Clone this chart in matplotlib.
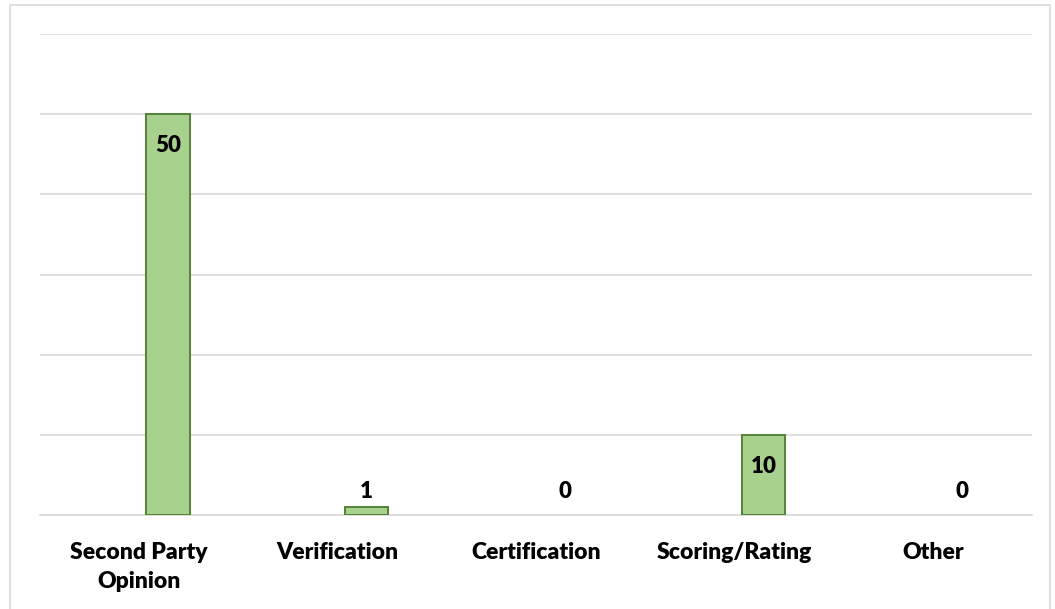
import matplotlib.pyplot as plt
from matplotlib.patches import Rectangle
import numpy as np

# Review types and counts
categories = ["Second Party\nOpinion", "Verification", "Certification", "Scoring/Rating", "Other"]
counts = [50, 1, 0, 10, 0]

plt.rcParams["font.family"] = ["Lato", "DejaVu Sans"]

fig = plt.figure(figsize=(10.55, 6.09), dpi=100)
ax = fig.add_axes([40 / 1055, 1 - 515 / 609, 992 / 1055, 481 / 609])

# chart border (bottom edge runs off the page)
fig.patches.append(Rectangle((10 / 1055, -0.05), 1040 / 1055, 1.05 - 5 / 609,
                             transform=fig.transFigure, fill=False,
                             edgecolor="#D9D9D9", linewidth=1.2))

x = np.arange(len(categories))
offset = 0.146
bars = ax.bar(x + offset, counts, width=0.22, color="#A9D18E",
              edgecolor="#548235", linewidth=1.4, zorder=3)
for b, v in zip(bars, counts):
    if v == 0:
        b.set_edgecolor("none")

ax.set_xlim(-0.5, len(categories) - 0.5)
ax.set_ylim(0, 60)
ax.set_yticks(np.arange(0, 61, 10))
ax.yaxis.grid(True, color="#D9D9D9", linewidth=1.2, zorder=0)
ax.tick_params(axis="y", left=False, labelleft=False)
ax.tick_params(axis="x", bottom=False, pad=16)
ax.set_xticks(x)
ax.set_xticklabels(categories, fontsize=16.5, fontweight="heavy", linespacing=1.45)
for s in ["top", "right", "left"]:
    ax.spines[s].set_visible(False)
ax.spines["bottom"].set_color("#D9D9D9")
ax.spines["bottom"].set_linewidth(1.2)

# value labels: inside the top for tall bars, above for short ones
for xi, v in zip(x + offset, counts):
    if v >= 5:
        ax.text(xi, v - 2.6, str(v), ha="center", va="top",
                fontsize=16, fontweight="heavy", zorder=4)
    else:
        ax.text(xi, max(v + 0.6, 1.6), str(v), ha="center", va="bottom",
                fontsize=16, fontweight="heavy", zorder=4)

fig.savefig("out.png", dpi=100)
